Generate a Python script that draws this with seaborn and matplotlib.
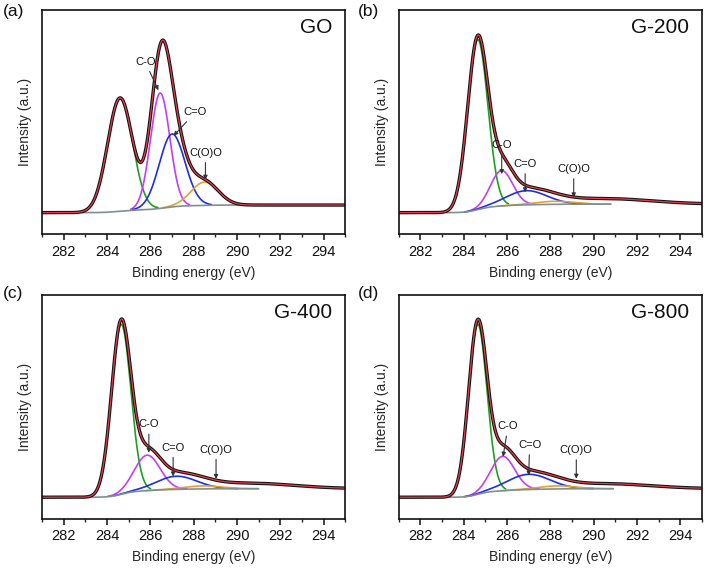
import matplotlib

matplotlib.use("Agg")
import matplotlib.pyplot as plt
import numpy as np
import seaborn as sns

samples = ["GO", "G-200", "G-400", "G-800"]
panel_tags = ["(a)", "(b)", "(c)", "(d)"]
components = ["C=C", "C-O", "C=O", "C(O)O"]

# fitted C1s peaks: centre (eV), height (a.u.), FWHM (eV)
peak_center = {
    "C=C": [284.60, 284.65, 284.65, 284.65],
    "C-O": [286.45, 285.75, 285.85, 285.80],
    "C=O": [287.00, 286.90, 287.20, 287.00],
    "C(O)O": [288.50, 288.20, 288.40, 288.30],
}
peak_height = {
    "C=C": [112.0, 168.0, 168.0, 168.0],
    "C-O": [114.0, 35.0, 35.0, 34.0],
    "C=O": [72.0, 14.0, 13.0, 15.0],
    "C(O)O": [23.0, 3.0, 3.0, 3.0],
}
peak_fwhm = {
    "C=C": [1.35, 1.10, 1.05, 1.00],
    "C-O": [1.05, 1.20, 1.40, 1.30],
    "C=O": [1.40, 2.20, 2.20, 2.30],
    "C(O)O": [1.50, 2.00, 2.00, 2.00],
}
# broad shake-up tail that is part of the envelope but not drawn on its own
tail_center = [290.5, 290.5, 290.5, 290.5]
tail_height = [0.0, 5.5, 5.5, 5.0]
tail_fwhm = [5.0, 5.0, 5.0, 5.0]
# Shirley background levels, low and high binding-energy side
bg_low = [0.0, 0.0, 0.0, 0.0]
bg_high = [7.5, 8.4, 8.4, 8.4]

energy_ticks = [282, 284, 286, 288, 290, 292, 294]
energy_minor = [281, 283, 285, 287, 289, 291, 293, 295]

comp_colors = {
    "C=C": "#1f9e1f",
    "C-O": "#c23ff2",
    "C=O": "#1f2fe0",
    "C(O)O": "#e3a03a",
}

# label text position and arrow tip, in data units, one list per panel
annotations = [
    [("C-O", (285.76, 149.0), (286.37, 121.0)),
     ("C=O", (288.07, 99.0), (287.07, 76.0)),
     ("C(O)O", (288.54, 59.0), (288.54, 32.5))],
    [("C-O", (285.76, 66.5), (285.76, 38.0)),
     ("C=O", (286.84, 48.0), (286.84, 20.0)),
     ("C(O)O", (289.08, 43.0), (289.08, 15.0))],
    [("C-O", (285.93, 72.0), (285.93, 44.0)),
     ("C=O", (287.05, 49.0), (287.05, 20.5)),
     ("C(O)O", (289.03, 47.0), (289.03, 18.0))],
    [("C-O", (286.05, 70.0), (285.82, 40.0)),
     ("C=O", (287.05, 51.5), (287.00, 21.5)),
     ("C(O)O", (289.20, 46.5), (289.20, 18.3))],
]


def gauss(e, c, h, w):
    return h * np.exp(-4.0 * np.log(2.0) * ((e - c) / w) ** 2)


sns.set_theme(style="ticks")
plt.rcParams["font.family"] = ["Liberation Sans", "DejaVu Sans"]

fig, axes = plt.subplots(2, 2, figsize=(7.13, 5.72), dpi=100)
fig.subplots_adjust(left=0.0589, right=0.9846, top=0.982, bottom=0.0927,
                    wspace=0.175, hspace=0.27)

e = np.linspace(281.0, 295.0, 1401)

for i, ax in enumerate(axes.flat):
    comps = {}
    for name in components:
        comps[name] = gauss(e, peak_center[name][i], peak_height[name][i],
                            peak_fwhm[name][i])
    total = sum(comps.values())
    frac = np.cumsum(total) / total.sum()
    bg = bg_low[i] + (bg_high[i] - bg_low[i]) * frac
    tail = gauss(e, tail_center[i], tail_height[i], tail_fwhm[i])
    envelope = bg + total + tail

    lo, hi = 295.0, 281.0
    for name in components:
        c, w = peak_center[name][i], peak_fwhm[name][i]
        m = np.abs(e - c) < 1.3 * w
        lo, hi = min(lo, c - 1.3 * w), max(hi, c + 1.3 * w)
        sns.lineplot(x=e[m], y=bg[m] + comps[name][m], ax=ax,
                     color=comp_colors[name], lw=1.2, sort=False)
    m = (e > lo) & (e < hi)
    sns.lineplot(x=e[m], y=bg[m], ax=ax, color="#7f9090", lw=1.2, sort=False)
    sns.lineplot(x=e, y=envelope, ax=ax, color="#111111", lw=2.4, sort=False)
    sns.lineplot(x=e, y=envelope, ax=ax, color="#e8394a", lw=0.9, sort=False)

    for label, txt, tip in annotations[i]:
        ax.annotate(label, xy=tip, xytext=txt, ha="center", va="center",
                    fontsize=8, color="#111111",
                    arrowprops=dict(arrowstyle="-|>", color="#333333", lw=0.8,
                                    mutation_scale=6, shrinkA=1, shrinkB=0))

    ax.text(294.4, 183, samples[i], ha="right", va="center", fontsize=15,
            color="#111111")

    ax.set_xlim(281, 295)
    ax.set_ylim(-21.5, 200)
    ax.set_xticks(energy_ticks)
    ax.set_xticks(energy_minor, minor=True)
    ax.set_yticks([])
    ax.tick_params(axis="x", which="major", length=4.5, width=1.1,
                   direction="out", labelsize=10.5, colors="#111111", pad=3)
    ax.tick_params(axis="x", which="minor", length=2.5, width=1.0,
                   direction="out")
    for sp in ax.spines.values():
        sp.set_linewidth(1.2)
        sp.set_color("#111111")
    ax.set_xlabel("Binding energy (eV)", fontsize=10, labelpad=5)
    ax.set_ylabel("Intensity (a.u.)", fontsize=10, labelpad=7)

tag_pos = [(0.004, 0.993), (0.502, 0.993), (0.004, 0.5), (0.502, 0.5)]
for tag, (tx, ty) in zip(panel_tags, tag_pos):
    fig.text(tx, ty, tag, ha="left", va="top", fontsize=12.5, color="#111111")

fig.savefig("out.png", dpi=100)
